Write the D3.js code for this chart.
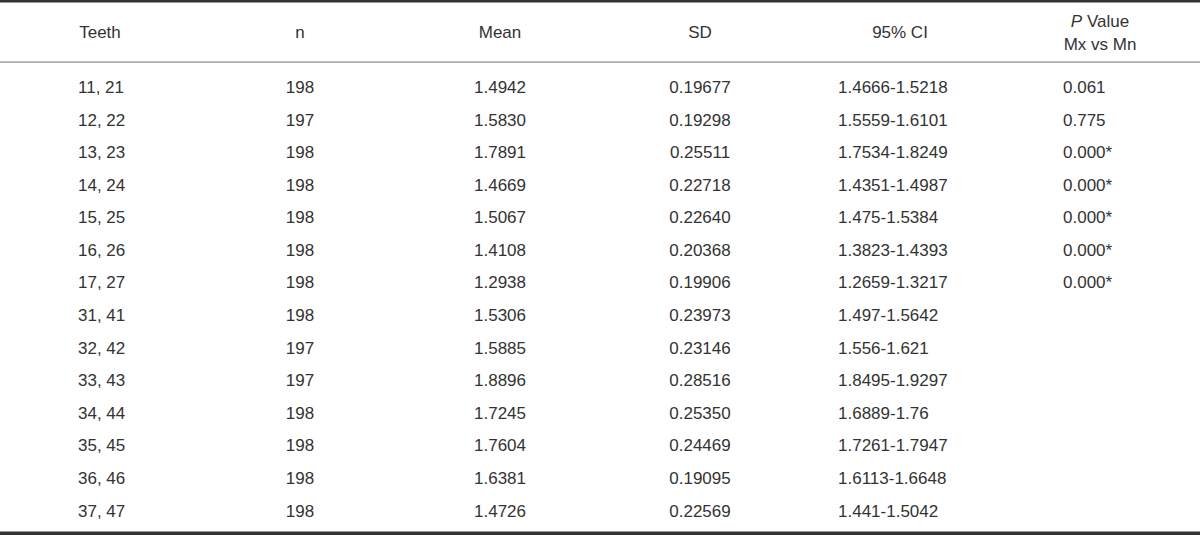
<!DOCTYPE html>
<html>
<head>
<meta charset="utf-8">
<script src="https://cdn.jsdelivr.net/npm/d3@7"></script>
<style>
  body { margin: 0; background: #fff; }
  text { font-family: "Liberation Sans", Arial, sans-serif; font-size: 17px; fill: #333; }
</style>
</head>
<body>
<svg id="table"></svg>
<script>
const width = 1200;
const height = 535;

// --- Table data
const teeth = ["11, 21", "12, 22", "13, 23", "14, 24", "15, 25", "16, 26", "17, 27",
  "31, 41", "32, 42", "33, 43", "34, 44", "35, 45", "36, 46", "37, 47"];
const nValues = [198, 197, 198, 198, 198, 198, 198, 198, 197, 197, 198, 198, 198, 198];
const means = ["1.4942", "1.5830", "1.7891", "1.4669", "1.5067", "1.4108", "1.2938",
  "1.5306", "1.5885", "1.8896", "1.7245", "1.7604", "1.6381", "1.4726"];
const sds = ["0.19677", "0.19298", "0.25511", "0.22718", "0.22640", "0.20368", "0.19906",
  "0.23973", "0.23146", "0.28516", "0.25350", "0.24469", "0.19095", "0.22569"];
const cis = ["1.4666-1.5218", "1.5559-1.6101", "1.7534-1.8249", "1.4351-1.4987", "1.475-1.5384",
  "1.3823-1.4393", "1.2659-1.3217", "1.497-1.5642", "1.556-1.621", "1.8495-1.9297",
  "1.6889-1.76", "1.7261-1.7947", "1.6113-1.6648", "1.441-1.5042"];
const pValues = ["0.061", "0.775", "0.000*", "0.000*", "0.000*", "0.000*", "0.000*",
  "", "", "", "", "", "", ""];
const headers = ["Teeth", "n", "Mean", "SD", "95% CI", "P Value"];

const rows = teeth.map((t, i) => [t, nValues[i], means[i], sds[i], cis[i], pValues[i]]);

const svg = d3.select("#table")
  .attr("width", width)
  .attr("height", height);

// --- Scales: columns evenly spaced, rows by index
const x = d3.scalePoint().domain(d3.range(headers.length)).range([100, 1100]);
const y = d3.scalePoint().domain(d3.range(rows.length)).range([93, 516.5]);

// how each column's body cells sit relative to the column centre
const bodyAnchor = ["start", "middle", "middle", "middle", "start", "start"];
const bodyShift = [-22, 0, 0, 0, -62, -37];

// --- Rules
svg.append("rect").attr("x", 0).attr("y", 0).attr("width", width).attr("height", 2.5).attr("fill", "#333");
svg.append("rect").attr("x", 0).attr("y", 61.5).attr("width", width).attr("height", 1.2).attr("fill", "#888");
svg.append("rect").attr("x", 0).attr("y", 531.5).attr("width", width).attr("height", 3.5).attr("fill", "#333");

// --- Header
const head = svg.append("g").attr("class", "header");
headers.forEach((h, j) => {
  if (h === "P Value") {
    const t = head.append("text").attr("x", x(j)).attr("y", 26.5).attr("text-anchor", "middle");
    t.append("tspan").style("font-style", "italic").text("P");
    t.append("tspan").text(" Value");
    head.append("text").attr("x", x(j)).attr("y", 50).attr("text-anchor", "middle").text("Mx vs Mn");
  } else {
    head.append("text").attr("x", x(j)).attr("y", 38.3).attr("text-anchor", "middle").text(h);
  }
});

// --- Body
const rowG = svg.selectAll(".row")
  .data(rows)
  .enter()
  .append("g")
  .attr("class", "row")
  .attr("transform", (d, i) => `translate(0,${y(i)})`);

rowG.selectAll("text")
  .data(d => d)
  .enter()
  .append("text")
  .attr("x", (d, j) => x(j) + bodyShift[j])
  .attr("text-anchor", (d, j) => bodyAnchor[j])
  .text(d => d);
</script>
</body>
</html>
